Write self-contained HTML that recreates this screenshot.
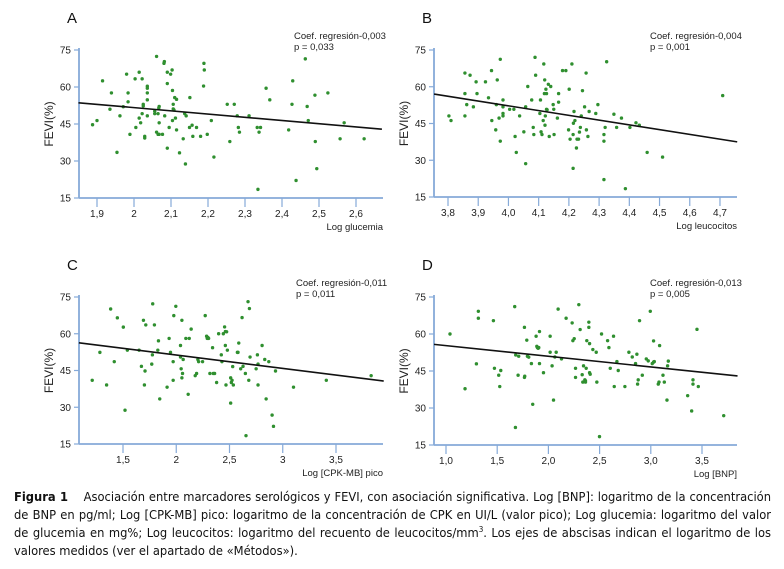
<!DOCTYPE html>
<html><head><meta charset="utf-8"><style>
html,body{margin:0;padding:0;background:#fff;}
body{width:784px;height:569px;position:relative;overflow:hidden;font-family:"Liberation Sans",sans-serif;}
#cap{position:absolute;left:14px;top:489px;width:757px;font-size:12.8px;line-height:18px;text-align:justify;color:#111;font-family:"DejaVu Sans Condensed","Liberation Sans",sans-serif;}
#cap b{font-weight:bold;}
#cap sup{font-size:8px;line-height:0;vertical-align:baseline;position:relative;top:-5px;}
</style></head><body>
<svg id="fig" width="784" height="569" style="position:absolute;left:0;top:0" xmlns="http://www.w3.org/2000/svg"></svg>
<div id="cap"><b>Figura 1</b>&nbsp;&nbsp;&nbsp; Asociación entre marcadores serológicos y FEVI, con asociación significativa. Log [BNP]: logaritmo de la concentración de BNP en pg/ml; Log [CPK-MB] pico: logaritmo de la concentración de CPK en UI/L (valor pico); Log glucemia: logaritmo del valor de glucemia en mg%; Log leucocitos: logaritmo del recuento de leucocitos/mm<sup>3</sup>. Los ejes de abscisas indican el logaritmo de los valores medidos (ver el apartado de «Métodos»).</div>
<script>
const yTicks=[75,60,45,30,15];
const aX=[1.888,1.9,1.915,1.939,1.935,1.954,1.962,1.971,1.980,1.984,1.984,1.989,2.003,2.005,2.014,2.014,2.018,2.022,2.022,2.025,2.025,2.029,2.029,2.036,2.036,2.036,2.036,2.036,2.056,2.056,2.061,2.061,2.065,2.065,2.067,2.068,2.068,2.068,2.077,2.081,2.082,2.083,2.090,2.090,2.090,2.095,2.099,2.103,2.104,2.104,2.106,2.106,2.108,2.110,2.112,2.115,2.115,2.123,2.133,2.137,2.139,2.141,2.151,2.150,2.157,2.159,2.169,2.180,2.189,2.190,2.188,2.198,2.209,2.216,2.252,2.259,2.271,2.279,2.282,2.285,2.311,2.335,2.333,2.338,2.342,2.357,2.367,2.418,2.427,2.429,2.438,2.463,2.468,2.471,2.489,2.490,2.494,2.524,2.557,2.568,2.622];
const aY=[44.7,46.4,62.5,57.6,51.0,33.5,48.3,52.0,65.2,57.6,54.0,40.8,63.3,43.6,66.0,47.4,45.5,63.3,49.2,52.3,53.0,40.0,39.3,60.3,59.5,57.6,54.8,48.3,50.2,49.2,72.4,41.7,40.8,49.2,51.5,52.1,45.5,40.8,40.8,69.6,70.3,48.3,66.0,61.4,35.2,43.6,65.2,66.9,58.6,46.4,53.0,51.1,50.7,55.7,47.4,42.6,55.0,33.3,39.0,49.2,28.8,48.3,55.7,43.6,44.5,40.0,43.6,40.0,69.6,66.9,60.4,40.8,46.4,31.6,53.0,37.9,53.0,48.3,43.6,41.7,48.3,18.5,43.6,41.7,43.6,59.5,54.8,42.6,53.0,62.5,22.1,71.4,52.1,46.4,56.7,37.9,26.9,57.6,39.0,45.5,39.0];
const aTicks=[1.9,2,2.1,2.2,2.3,2.4,2.5,2.6];
const aLineX=[1.85,2.67], aLineY=[53.6,42.9];

const bX=[3.803,3.810,3.856,3.856,3.856,3.862,3.873,3.884,3.893,3.896,3.924,3.934,3.944,3.945,3.958,3.960,3.963,3.969,3.973,3.973,3.982,3.982,3.982,3.982,4.004,4.018,4.022,4.026,4.037,4.051,4.057,4.057,4.064,4.077,4.082,4.084,4.088,4.090,4.104,4.106,4.108,4.111,4.115,4.117,4.119,4.120,4.121,4.122,4.124,4.126,4.126,4.128,4.132,4.135,4.140,4.148,4.150,4.151,4.162,4.166,4.166,4.179,4.190,4.199,4.201,4.204,4.210,4.214,4.214,4.215,4.217,4.220,4.225,4.227,4.232,4.235,4.238,4.241,4.245,4.252,4.257,4.258,4.263,4.267,4.289,4.296,4.316,4.316,4.316,4.320,4.325,4.349,4.358,4.374,4.387,4.402,4.422,4.433,4.459,4.510,4.709];
const bY=[48.1,46.2,65.6,57.2,48.1,52.7,64.7,51.8,62.0,57.2,62.0,55.5,66.6,46.2,42.4,52.7,62.8,47.2,37.8,71.2,54.6,51.8,49.1,48.1,50.8,50.8,39.7,33.2,48.1,41.6,28.6,51.8,60.1,54.6,43.4,40.5,72.0,64.7,49.1,54.6,41.6,40.5,46.2,69.3,57.2,62.8,44.3,48.1,59.0,57.2,50.8,50.6,61.0,39.7,60.1,52.7,50.8,40.5,47.2,57.2,53.7,66.6,66.6,42.4,59.0,38.6,69.3,40.5,26.7,45.1,49.9,46.2,35.0,38.6,38.6,41.5,43.4,48.1,58.4,51.8,65.6,42.4,39.7,49.9,49.1,52.7,40.5,37.8,22.1,43.4,70.2,48.8,43.4,47.2,18.4,43.4,45.3,44.3,33.2,31.3,56.4];
const bTicks=[3.8,3.9,4.0,4.1,4.2,4.3,4.4,4.5,4.6,4.7];
const bLineX=[3.754,4.757], bLineY=[57.0,37.5];

const cX=[1.211,1.283,1.346,1.384,1.418,1.447,1.503,1.519,1.541,1.651,1.673,1.692,1.701,1.707,1.714,1.770,1.776,1.779,1.795,1.827,1.833,1.845,1.914,1.933,1.946,1.971,1.971,1.977,1.996,2.040,2.040,2.046,2.053,2.053,2.059,2.065,2.090,2.122,2.112,2.140,2.178,2.191,2.203,2.210,2.247,2.272,2.285,2.291,2.297,2.304,2.316,2.341,2.348,2.360,2.379,2.398,2.423,2.429,2.442,2.454,2.461,2.461,2.467,2.473,2.480,2.511,2.511,2.517,2.524,2.530,2.536,2.574,2.580,2.587,2.605,2.618,2.627,2.649,2.655,2.674,2.681,2.687,2.693,2.750,2.762,2.768,2.768,2.806,2.831,2.844,2.869,2.900,2.913,2.932,3.101,3.409,3.830];
const cY=[41.0,52.4,39.1,70.1,48.6,66.5,62.7,28.8,53.3,53.3,46.7,65.5,39.1,44.8,63.6,47.6,51.4,72.2,63.6,53.3,57.1,33.4,38.2,58.1,52.4,41.0,48.6,67.4,71.2,55.2,50.5,45.7,42.0,65.5,43.8,49.5,58.1,58.1,35.3,61.9,42.9,43.8,49.5,48.6,48.6,67.4,59.0,58.1,58.5,58.1,43.8,54.3,43.8,43.8,40.1,60.0,51.4,48.6,60.0,62.8,60.9,55.2,39.1,60.8,53.3,42.0,31.7,40.1,41.0,46.6,39.1,52.4,52.4,56.2,45.7,66.6,46.7,43.8,18.4,73.1,41.0,70.3,50.5,45.7,51.4,47.6,39.1,55.2,49.5,33.4,48.6,26.8,22.2,44.8,38.2,41.0,42.9];
const cTicks=[1.5,2,2.5,3,3.5];
const cLineX=[1.086,3.948], cLineY=[56.3,40.7];

const dX=[1.039,1.186,1.297,1.316,1.316,1.463,1.473,1.515,1.525,1.535,1.671,1.678,1.681,1.704,1.710,1.766,1.766,1.769,1.789,1.795,1.808,1.834,1.847,1.880,1.887,1.893,1.900,1.906,1.913,1.913,1.952,2.017,2.017,2.036,2.050,2.063,2.076,2.095,2.128,2.173,2.232,2.239,2.252,2.265,2.265,2.297,2.310,2.330,2.336,2.343,2.356,2.362,2.362,2.369,2.375,2.395,2.395,2.402,2.402,2.408,2.434,2.467,2.473,2.499,2.519,2.578,2.591,2.604,2.636,2.643,2.669,2.682,2.747,2.786,2.819,2.851,2.864,2.871,2.877,2.890,2.917,2.956,2.975,2.995,3.014,3.027,3.027,3.034,3.073,3.080,3.086,3.119,3.132,3.158,3.164,3.171,3.360,3.399,3.412,3.412,3.451,3.464,3.712];
const dY=[60.0,37.8,47.9,69.2,66.4,65.4,46.1,43.3,38.7,45.2,71.1,22.1,51.5,43.3,51.0,62.7,42.4,42.9,57.5,51.0,50.6,48.0,31.5,59.1,55.0,54.5,54.2,54.5,61.0,48.0,44.3,59.1,52.6,47.1,33.2,50.7,52.6,70.1,49.9,66.4,64.5,57.3,58.1,46.1,42.4,71.9,61.8,43.5,40.5,47.1,41.4,41.0,40.5,46.1,57.3,64.8,62.7,56.1,44.3,43.7,53.7,52.6,40.5,18.4,60.0,57.3,54.5,46.1,59.1,38.7,48.8,45.2,38.7,52.6,50.7,48.0,51.8,39.7,41.4,65.4,43.3,49.9,49.1,69.2,48.0,57.2,48.6,48.8,39.7,40.5,55.3,43.3,40.5,33.2,47.1,49.0,35.0,28.8,39.7,41.4,61.9,38.7,26.9];
const dTicks=[1.0,1.5,2.0,2.5,3.0,3.5];
const dLineX=[0.883,3.847], dLineY=[55.8,43.0];

const NS="http://www.w3.org/2000/svg";
const svg=document.getElementById('fig');
function mk(tag,attrs,parent){const e=document.createElementNS(NS,tag);for(const k in attrs)e.setAttribute(k,attrs[k]);(parent||svg).appendChild(e);return e;}
function fmt(v,dec){return v.toFixed(dec).replace('.',',');}

function panel(p){
  const g=mk('g',{});
  
  
  const sx=v=>p.x0px+(v-p.x0)*p.xs;
  const sy=v=>p.top+(75-v)*p.ys;
  const bottom=sy(15);
  const axc='#86aad8';
  const lt=mk('text',{x:p.axisX-12,y:p.top-27,'font-size':15,fill:'#111'},g);lt.textContent=p.letter;
  
  const ya=mk('line',{x1:p.axisX,y1:p.top-2,x2:p.axisX,y2:bottom,stroke:axc,'stroke-width':1.8},g);
  
  const xa=mk('line',{x1:p.axisX,y1:bottom,x2:p.axisEnd,y2:bottom,stroke:axc,'stroke-width':1.8},g);
  
  yTicks.forEach(t=>{
    mk('line',{x1:p.axisX-5,y1:sy(t),x2:p.axisX,y2:sy(t),stroke:axc,'stroke-width':1.2},g);
    const tx=mk('text',{x:p.axisX-8,y:sy(t)+3.5,'font-size':10,'text-anchor':'end',fill:'#222'},g);
    tx.textContent=t;
    
  });
  p.ticks.forEach(t=>{
    mk('line',{x1:sx(t),y1:bottom,x2:sx(t),y2:bottom+9,stroke:axc,'stroke-width':1.2},g);
    const tx=mk('text',{x:sx(t),y:bottom+19,'font-size':10,'text-anchor':'middle',fill:'#222'},g);
    tx.textContent=p.dec==null?String(t).replace('.',','):fmt(t,p.dec);
    
  });
  const yl=mk('text',{x:0,y:0,'font-size':12,'text-anchor':'middle',fill:'#222',transform:`translate(${p.axisX-26},${(p.top+bottom)/2}) rotate(-90)`},g);
  yl.textContent='FEVI(%)';
  
  const xl=mk('text',{x:p.axisEnd,y:bottom+32,'font-size':9.5,'text-anchor':'end',fill:'#222'},g);
  xl.textContent=p.xlabel;
  
  const c1=mk('text',{x:p.coefX,y:p.top-11,'font-size':9.5,fill:'#222'},g);c1.textContent=p.coef;
  
  const c2=mk('text',{x:p.coefX,y:p.top,'font-size':9.5,fill:'#222'},g);c2.textContent=p.pval;
  
  p.xs_.forEach((v,i)=>{
    const c=mk('circle',{cx:sx(v),cy:sy(p.ys_[i]),r:1.7,fill:'#2f8f2f'},g);
    
    
  });
  const rl=mk('line',{x1:sx(p.lx[0]),y1:sy(p.ly[0]),x2:sx(p.lx[1]),y2:sy(p.ly[1]),stroke:'#111','stroke-width':1.6},g);
  
}
panel({letter:'A',axisX:79,axisEnd:383,top:50,x0:1.9,x0px:97,xs:370,ys:148/60,ticks:aTicks,dec:null,xlabel:'Log glucemia',coef:'Coef. regresión-0,003',pval:'p = 0,033',coefX:294,xs_:aX,ys_:aY,lx:aLineX,ly:aLineY});
panel({letter:'B',axisX:434,axisEnd:737,top:50,x0:3.8,x0px:448,xs:302.2,ys:147/60,ticks:bTicks,dec:1,xlabel:'Log leucocitos',coef:'Coef. regresión-0,004',pval:'p = 0,001',coefX:650,xs_:bX,ys_:bY,lx:bLineX,ly:bLineY});
panel({letter:'C',axisX:79,axisEnd:383,top:297,x0:1.5,x0px:123,xs:106.5,ys:147/60,ticks:cTicks,dec:null,xlabel:'Log [CPK-MB] pico',coef:'Coef. regresión-0,011',pval:'p = 0,011',coefX:296,xs_:cX,ys_:cY,lx:cLineX,ly:cLineY});
panel({letter:'D',axisX:434,axisEnd:737,top:297,x0:1.0,x0px:446,xs:102.4,ys:148/60,ticks:dTicks,dec:1,xlabel:'Log [BNP]',coef:'Coef. regresión-0,013',pval:'p = 0,005',coefX:650,xs_:dX,ys_:dY,lx:dLineX,ly:dLineY});
</script>
</body></html>
